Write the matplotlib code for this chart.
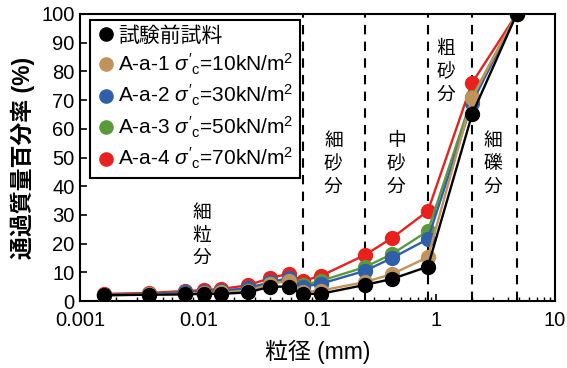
import matplotlib
matplotlib.use("Agg")
import matplotlib.pyplot as plt
from matplotlib.lines import Line2D

plt.rcParams['font.family'] = ['Liberation Sans', 'Noto Sans CJK JP']
plt.rcParams['mathtext.fontset'] = 'custom'
plt.rcParams['mathtext.it'] = 'Liberation Sans:italic'
plt.rcParams['mathtext.rm'] = 'Liberation Sans'

# particle size (mm)
size_mm = [0.0016, 0.0038, 0.0076, 0.011, 0.0155, 0.026, 0.040, 0.057,
           0.075, 0.106, 0.25, 0.425, 0.85, 2.0, 4.75]

# percent passing (%)
before = [2.0, 2.2, 2.3, 2.5, 2.5, 3.0, 5.0, 5.0, 2.5, 2.5, 5.6, 7.7, 12.0, 65.0, 100]
a1 = [2.0, 2.3, 2.5, 2.8, 3.0, 3.5, 6.0, 7.0, 3.2, 3.6, 6.6, 9.4, 15.3, 70.7, 100]
a2 = [2.2, 2.5, 3.0, 3.2, 3.5, 4.5, 6.5, 8.0, 5.0, 6.0, 10.5, 15.0, 21.6, 69.0, 100]
a3 = [2.2, 2.5, 3.0, 3.2, 3.5, 4.5, 6.5, 7.5, 5.5, 7.0, 11.8, 16.4, 24.4, 71.0, 100]
a4 = [2.5, 2.8, 3.5, 3.8, 4.2, 5.5, 8.0, 9.5, 7.0, 8.7, 16.0, 22.0, 31.4, 76.0, 100]

labels = ['試験前試料',
          r"A-a-1 $\sigma'_{\mathrm{c}}$=10kN/m$^2$",
          r"A-a-2 $\sigma'_{\mathrm{c}}$=30kN/m$^2$",
          r"A-a-3 $\sigma'_{\mathrm{c}}$=50kN/m$^2$",
          r"A-a-4 $\sigma'_{\mathrm{c}}$=70kN/m$^2$"]
colors = ['black', '#c0935a', '#2f5fa8', '#5b9a3b', '#e8211e']

# boundaries of the fractions (mm)
bounds = [0.075, 0.25, 0.85, 2.0, 4.75]

fig = plt.figure(figsize=(5.67, 3.68), dpi=100)
ax = fig.add_axes([0.141, 0.182, 0.838, 0.78])

for b in bounds:
    ax.plot([b, b], [0, 100], color='black', lw=1.5, ls=(0, (4.5, 3.5)), zorder=1)

series = [before, a1, a2, a3, a4]
for i in [4, 3, 2, 1, 0]:
    ax.plot(size_mm, series[i], color=colors[i], lw=1.7, marker='o',
            ms=10, mec=colors[i], zorder=3 + (4 - i))

ax.set_xscale('log')
ax.set_xlim(0.001, 10)
ax.set_ylim(0, 100)
ax.set_yticks(range(0, 101, 10))
ax.tick_params(which='both', direction='in', labelsize=14.5)
ax.tick_params(axis='x', which='major', pad=7)
ax.tick_params(axis='y', which='major', pad=4)
ax.tick_params(which='major', length=5, width=1.2)
ax.tick_params(which='minor', length=3, width=1)
ax.set_xticks([0.001, 0.01, 0.1, 1, 10])
ax.set_xticklabels(['0.001', '0.01', '0.1', '1', '10'])
for s in ax.spines.values():
    s.set_linewidth(1.5)

ax.set_xlabel('粒径 (mm)', fontsize=16.5, labelpad=7)
ax.set_ylabel('通過質量百分率 (%)', fontsize=16.5, fontweight='bold', labelpad=4)

tk = dict(fontsize=13.5, ha='center', va='center', linespacing=1.1,
          family=['Noto Sans CJK JP'])
ax.text(0.0106, 23, '細\n粒\n分', **tk)
ax.text(0.136, 48, '細\n砂\n分', **tk)
ax.text(0.46, 48, '中\n砂\n分', **tk)
ax.text(1.2, 80, '粗\n砂\n分', **tk)
ax.text(3.0, 48, '細\n礫\n分', **tk)

handles = [Line2D([], [], ls='none', marker='o', ms=9.5, color=c) for c in colors]
leg = ax.legend(handles, labels, loc='upper left', bbox_to_anchor=(0.021, 0.98),
                fontsize=15, frameon=True, fancybox=False, framealpha=1,
                edgecolor='black', handletextpad=0.15, handlelength=0.9,
                borderpad=0.3, labelspacing=0.3, borderaxespad=0)
leg.get_frame().set_linewidth(1.5)
leg.set_zorder(10)

fig.savefig('out.png', dpi=100)
